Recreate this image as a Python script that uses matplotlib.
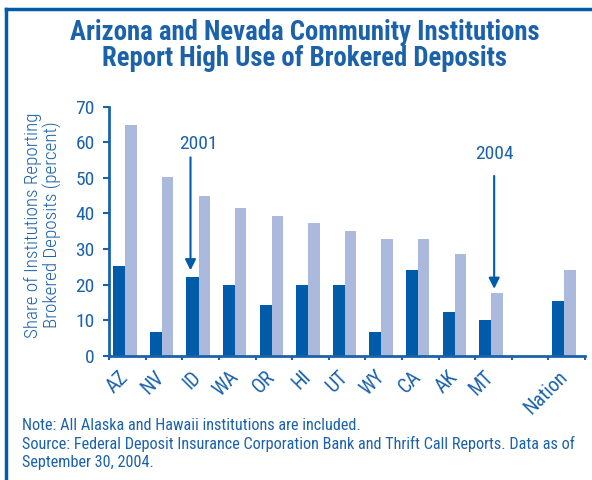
import numpy as np
import matplotlib.pyplot as plt
from matplotlib import font_manager
from matplotlib.lines import Line2D

# pick a condensed face if one is there
available = {f.name for f in font_manager.fontManager.ttflist}
candidates = ['Roboto Condensed', 'Archivo Narrow', 'PT Sans Narrow', 'Fira Sans Condensed',
              'IBM Plex Sans Condensed', 'Encode Sans Condensed', 'Open Sans Condensed',
              'Liberation Sans Narrow']
fam = [c for c in candidates if c in available][:1] + ['DejaVu Sans']
plt.rcParams['font.family'] = fam

BLUE = '#1c62ab'
DARK = '#005ca9'
LIGHT = '#abbadc'

# data
states = ['AZ', 'NV', 'ID', 'WA', 'OR', 'HI', 'UT', 'WY', 'CA', 'AK', 'MT', '', 'Nation']
share_2001 = [25.2, 6.7, 22.1, 19.9, 14.2, 19.9, 19.9, 6.7, 24.1, 12.3, 10.0, None, 15.4]
share_2004 = [64.7, 50.2, 44.9, 41.5, 39.3, 37.3, 35.0, 32.8, 32.8, 28.6, 17.6, None, 24.1]
yticks = [0, 10, 20, 30, 40, 50, 60, 70]

fig = plt.figure(figsize=(5.92, 4.8), dpi=100)
ax = fig.add_axes([0.1846, 0.259, 0.8034, 0.519])

idx = [i for i, v in enumerate(share_2001) if v is not None]
x = np.array(idx, dtype=float)
ax.bar(x + 0.11, [share_2001[i] for i in idx], width=0.33, align='edge', color=DARK, linewidth=0)
ax.bar(x + 0.44, [share_2004[i] for i in idx], width=0.31, align='edge', color=LIGHT, linewidth=0)

ax.set_xlim(0, len(states))
ax.set_ylim(0, 70)
ax.set_yticks(yticks)
ax.set_xticks(np.arange(len(states) + 1))
ax.set_xticklabels([])
ax.tick_params(axis='y', colors=BLUE, labelsize=14, length=4.5, width=1.5, pad=6)
ax.tick_params(axis='x', colors=BLUE, length=3, width=1.5, direction='out')
for s in ['top', 'right']:
    ax.spines[s].set_visible(False)
for s in ['left', 'bottom']:
    ax.spines[s].set_color(BLUE)
    ax.spines[s].set_linewidth(2)

for i, name in enumerate(states):
    if name:
        ax.text(i + 0.62, -3.3, name, rotation=45, ha='right', va='top',
                color=BLUE, fontsize=14.5)

ax.annotate('', xy=(2.22, 23.2), xytext=(2.22, 56.5),
            arrowprops=dict(arrowstyle='-|>', color=DARK, lw=1.5, mutation_scale=16))
ax.text(2.43, 59.5, '2001', ha='center', va='center', color=BLUE, fontsize=14)
ax.annotate('', xy=(10.52, 18.0), xytext=(10.52, 51.3),
            arrowprops=dict(arrowstyle='-|>', color=DARK, lw=1.5, mutation_scale=16))
ax.text(10.52, 56.7, '2004', ha='center', va='center', color=BLUE, fontsize=14)

ylab1 = fig.text(33 / 592, 1 - 225 / 480, 'Share of Institutions Reporting', rotation=90,
                 ha='center', va='center', color=BLUE, fontsize=13, fontweight='light')
ylab2 = fig.text(52 / 592, 1 - 225 / 480, 'Brokered Deposits (percent)', rotation=90,
                 ha='center', va='center', color=BLUE, fontsize=13, fontweight='light')

title1 = fig.text(305 / 592, 1 - 32 / 480, 'Arizona and Nevada Community Institutions',
                  ha='center', va='center', color=BLUE, fontsize=18, fontweight='bold')
title2 = fig.text(305 / 592, 1 - 59 / 480, 'Report High Use of Brokered Deposits',
                  ha='center', va='center', color=BLUE, fontsize=18, fontweight='bold')

note = fig.text(22 / 592, 1 - 426 / 480, 'Note: All Alaska and Hawaii institutions are included.',
                ha='left', va='center', color=BLUE, fontsize=10.5)
src = fig.text(22 / 592, 1 - 444 / 480,
               'Source: Federal Deposit Insurance Corporation Bank and Thrift Call Reports. Data as of',
               ha='left', va='center', color=BLUE, fontsize=10.5)
src2 = fig.text(22 / 592, 1 - 462 / 480, 'September 30, 2004.',
                ha='left', va='center', color=BLUE, fontsize=10.5)

# scale a few texts so they span the same width as in the reference
renderer = fig.canvas.get_renderer()
for _ in range(2):
    size = title1.get_fontsize() * 470 / title1.get_window_extent(renderer).width
    title1.set_fontsize(size)
    title2.set_fontsize(size)
    size = src.get_fontsize() * 553 / src.get_window_extent(renderer).width
    for t in (note, src, src2):
        t.set_fontsize(size)
    size = ylab1.get_fontsize() * 225 / ylab1.get_window_extent(renderer).height
    ylab1.set_fontsize(size)
    ylab2.set_fontsize(size)

# frame lines on top and left
fig.add_artist(Line2D([0.010, 1.0], [0.981, 0.981], color=DARK, lw=2.5, transform=fig.transFigure))
fig.add_artist(Line2D([0.010, 0.010], [0.0, 0.981], color=DARK, lw=2.5, transform=fig.transFigure))

fig.savefig('out.png', dpi=100)
